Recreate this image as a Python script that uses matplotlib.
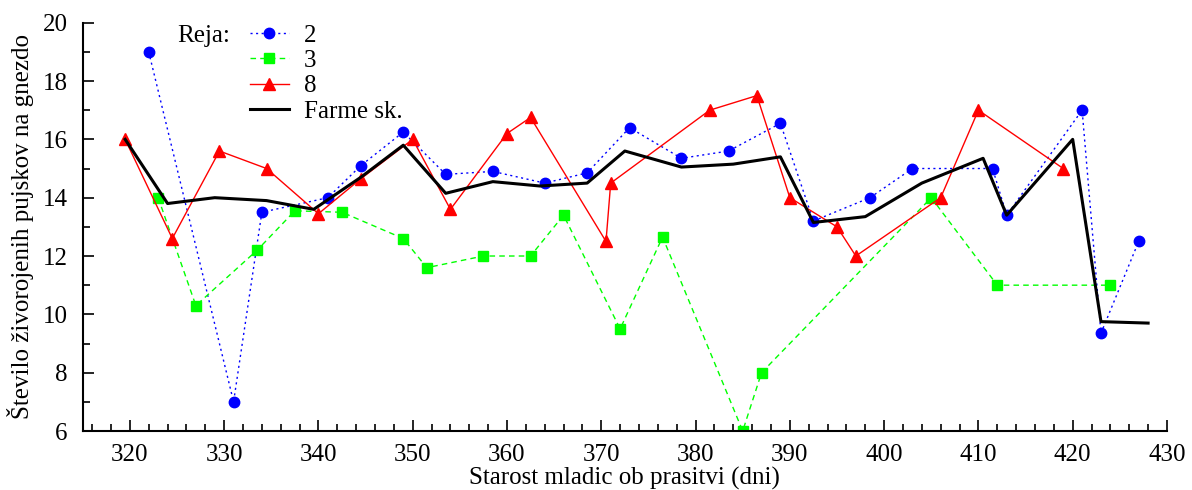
import numpy as np
import matplotlib
matplotlib.use("Agg")
from matplotlib import pyplot as plt
from matplotlib.ticker import MultipleLocator

plt.rcParams['font.family'] = ['Liberation Serif', 'DejaVu Serif']

# Reja 2
x2 = [322, 331, 334, 341, 344.5, 349, 353.5, 358.5, 364, 368.5, 373, 378.5, 383.5,
      389, 392.5, 398.5, 403, 411.5, 413, 421, 423, 427]
y2 = [19, 7, 13.5, 14, 15.1, 16.25, 14.8, 14.9, 14.5, 14.85, 16.4, 15.35, 15.6,
      16.55, 13.2, 14, 15, 15, 13.4, 17, 9.35, 12.5]

# Reja 3
x3 = [323, 327, 333.5, 337.5, 342.5, 349, 351.5, 357.5, 362.5, 366, 372, 376.5,
      385, 387, 405, 412, 424]
y3 = [14, 10.3, 12.2, 13.55, 13.5, 12.6, 11.6, 12, 12, 13.4, 9.5, 12.65,
      6, 8, 14, 11, 11]

# Reja 8
x8 = [319.5, 324.5, 329.5, 334.5, 340, 344.5, 350, 354, 360, 362.5, 370.5, 371,
      381.5, 386.5, 390, 395, 397, 406, 410, 419]
y8 = [16, 12.6, 15.6, 15, 13.45, 14.65, 16, 13.6, 16.2, 16.75, 12.5, 14.5,
      17, 17.5, 14, 13, 12, 14, 17, 15]

# Farme skupaj
xf = [319.5, 324, 329, 334.5, 339.5, 344.5, 349, 353.5, 358.5, 363.5, 368.5, 372.5,
      378.5, 384, 389, 392.5, 398, 404, 410.5, 413, 420, 423, 428]
yf = [16, 13.8, 14, 13.9, 13.6, 14.7, 15.8, 14.15, 14.55, 14.4, 14.5, 15.6,
      15.05, 15.15, 15.4, 13.15, 13.35, 14.5, 15.35, 13.4, 16, 9.75, 9.7]

fs = 18
fig = plt.figure(figsize=(11.92, 4.9), dpi=100)
ax = fig.add_axes([0.0694, 0.1204, 0.9096, 0.8333])

ax.plot(x2, y2, color='#0000ff', ls=(0, (1.5, 2.5)), lw=1.0, marker='o', ms=7.5, label='2')
ax.plot(x3, y3, color='#00ff00', ls=(0, (4, 3)), lw=1.0, marker='s', ms=7.5, label='3')
ax.plot(x8, y8, color='#ff0000', ls='-', lw=1.0, marker='^', ms=8.5, label='8')
ax.plot(xf, yf, color='black', ls='-', lw=2.2, label='Farme sk.')

ax.set_xlim(315, 430)
ax.set_ylim(6, 20)
ax.xaxis.set_major_locator(MultipleLocator(10))
ax.xaxis.set_minor_locator(MultipleLocator(2))
ax.yaxis.set_major_locator(MultipleLocator(2))
ax.yaxis.set_minor_locator(MultipleLocator(1))
ax.tick_params(which='both', direction='in', labelsize=fs, width=1.2)
ax.tick_params(which='major', length=8)
ax.tick_params(which='minor', length=5)
ax.tick_params(axis='y', pad=11)
ax.tick_params(axis='x', pad=9)
for s in ['top', 'right']:
    ax.spines[s].set_visible(False)
for s in ['left', 'bottom']:
    ax.spines[s].set_linewidth(1.5)

ax.set_xlabel('Starost mladic ob prasitvi (dni)', fontsize=fs, labelpad=1)
ax.set_ylabel('Število živorojenih pujskov na gnezdo', fontsize=fs, labelpad=6)

leg = ax.legend(loc='upper left', bbox_to_anchor=(250 / 1192, 1 - 24 / 490),
                bbox_transform=fig.transFigure, frameon=False, fontsize=fs,
                handlelength=1.55, handletextpad=0.6, labelspacing=0.12,
                borderpad=0, borderaxespad=0)
fig.text(177 / 1192, 1 - 36 / 490, 'Reja:', fontsize=fs, va='center', ha='left')

fig.savefig('out.png', dpi=100)
